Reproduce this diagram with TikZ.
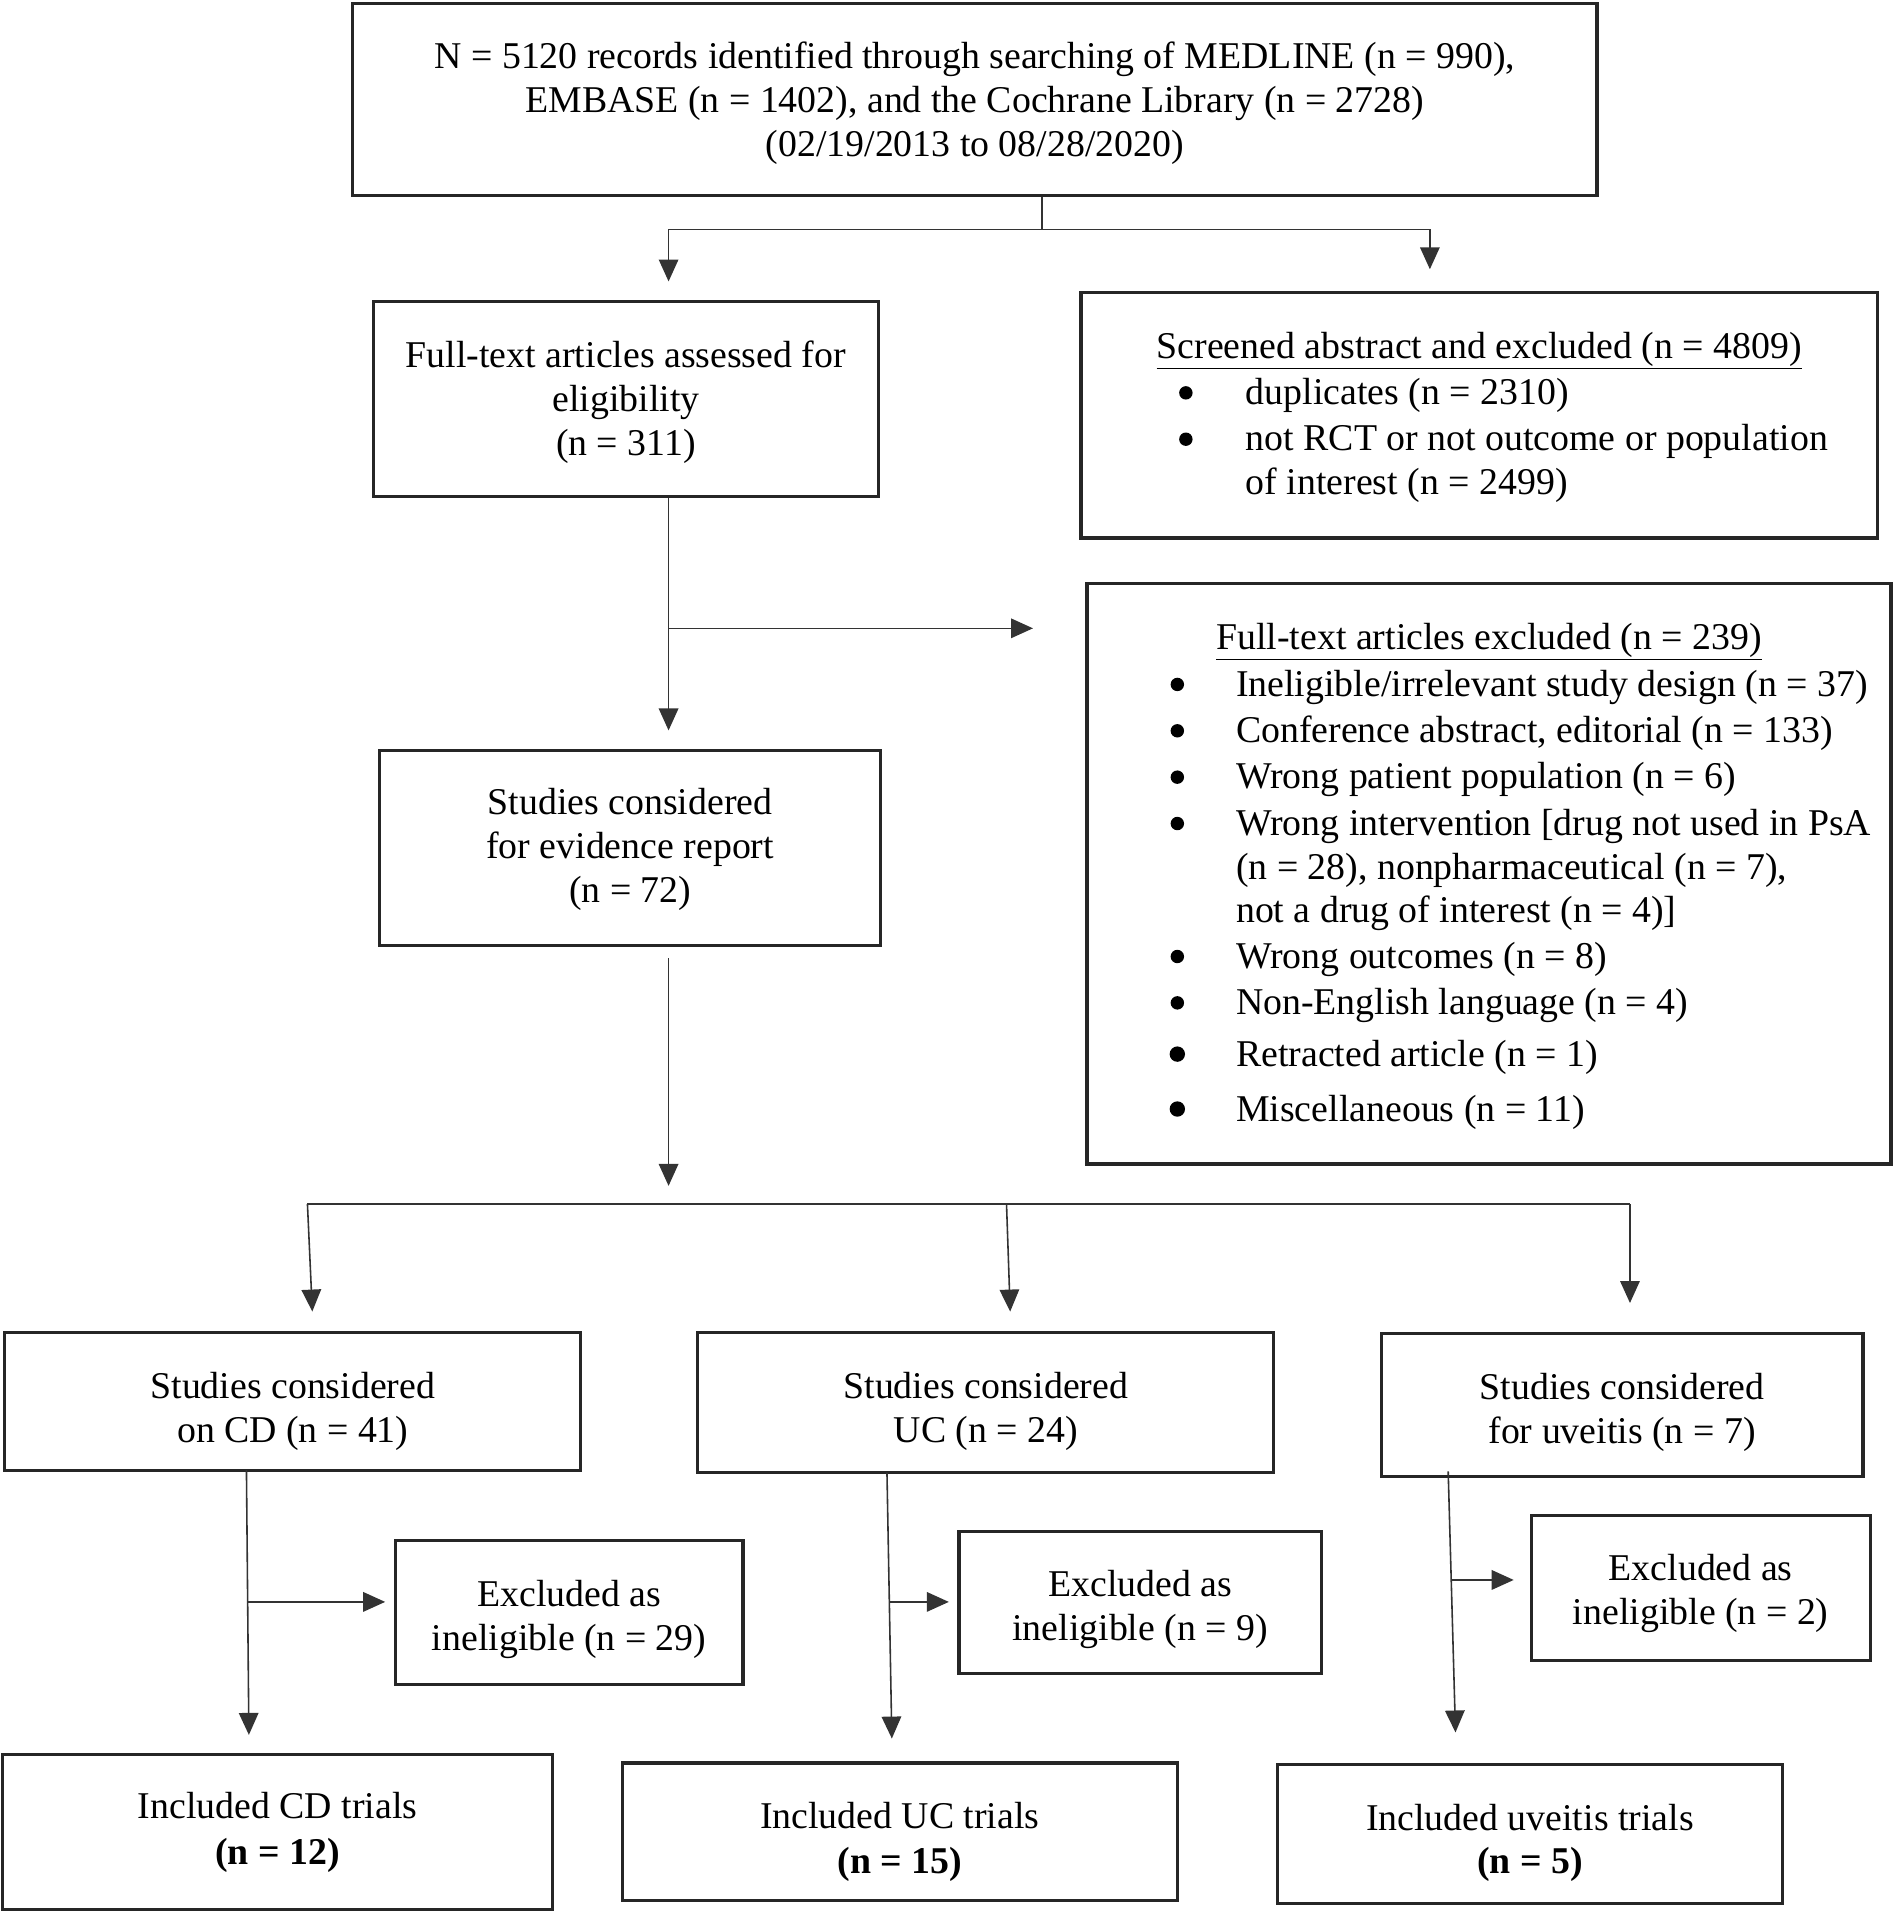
\documentclass[tikz,border=0pt]{standalone}
\usepackage{fontspec}
\setmainfont{Liberation Serif}
\usetikzlibrary{arrows.meta,calc}
\begin{document}
\begin{tikzpicture}[x=1pt,y=-1pt,
  box/.style={draw=black!85, line width=2.6pt, inner sep=0pt},
  btxt/.style={inner sep=0pt, align=center, font=\fontsize{31}{36}\selectfont},
  txt/.style={inner sep=0pt, font=\fontsize{31}{36}\selectfont, text height=0.72em, text depth=0.22em},
  conn/.style={draw=black!80, line width=1.3pt},
  arr/.style={conn, -{Triangle[length=18pt,width=16pt]}},
  bul/.style={fill=black},
]
\useasboundingbox (0,0) rectangle (1552,1568);

% boxes
\node[box, minimum width=1020pt, minimum height=157pt] (top) at (799,81.5) {};
\node[box, minimum width=414pt, minimum height=160pt] (A) at (513,327) {};
\node[box, minimum width=653pt, minimum height=201pt] (B) at (1212.5,340.5) {};
\node[box, minimum width=659pt, minimum height=476pt] (C) at (1220.5,716) {};
\node[box, minimum width=411pt, minimum height=160pt] (D) at (516.5,695) {};
\node[box, minimum width=472pt, minimum height=113pt] (E1) at (240,1148.5) {};
\node[box, minimum width=472pt, minimum height=115pt] (E2) at (808,1149.5) {};
\node[box, minimum width=395pt, minimum height=117pt] (E3) at (1329.5,1151.5) {};
\node[box, minimum width=285pt, minimum height=118pt] (F1) at (466.5,1322) {};
\node[box, minimum width=297pt, minimum height=117pt] (F2) at (934.5,1313.5) {};
\node[box, minimum width=278pt, minimum height=119pt] (F3) at (1394,1301.5) {};
\node[box, minimum width=451pt, minimum height=127pt] (G1) at (227.5,1501.5) {};
\node[box, minimum width=455pt, minimum height=113pt] (G2) at (737.5,1501.5) {};
\node[box, minimum width=414pt, minimum height=114pt] (G3) at (1254,1503) {};

% box texts
\node[btxt] (topT) at (799,84.5)
  {N = 5120 records identified through searching of MEDLINE (n = 990),\\
   EMBASE (n = 1402), and the Cochrane Library (n = 2728)\\
   (02/19/2013 to 08/28/2020)};
\node[btxt] (AT) at (513,329.5) {Full-text articles assessed for\\ eligibility\\ (n = 311)};
\node[btxt] (DT) at (516.5,696.5) {Studies considered\\ for evidence report\\ (n = 72)};
\node[btxt] (E1T) at (240,1156.5) {Studies considered\\ on CD (n = 41)};
\node[btxt] (E2T) at (808,1156.5) {Studies considered\\ UC (n = 24)};
\node[btxt] (E3T) at (1329.5,1157.5) {Studies considered\\ for uveitis (n = 7)};
\node[btxt] (F1T) at (466.5,1327.5) {Excluded as\\ ineligible (n = 29)};
\node[btxt] (F2T) at (934.5,1319) {Excluded as\\ ineligible (n = 9)};
\node[btxt] (F3T) at (1394,1306) {Excluded as\\ ineligible (n = 2)};
\node[btxt, font=\fontsize{31}{38}\selectfont] (G1T) at (227.5,1502) {Included CD trials\\ \textbf{(n = 12)}};
\node[btxt, font=\fontsize{31}{37}\selectfont] (G2T) at (737.5,1509.5) {Included UC trials\\ \textbf{(n = 15)}};
\node[btxt, font=\fontsize{31}{36}\selectfont] (G3T) at (1254,1510.5) {Included uveitis trials\\ \textbf{(n = 5)}};

% texts in B
\node[txt] (Bt) at (1212.5,291) {\underline{Screened abstract and excluded (n = 4809)}};
\node[txt, anchor=west] (B1) at (1021,329) {duplicates (n = 2310)};
\node[txt, anchor=west] (B2) at (1021,367) {not RCT or not outcome or population};
\node[txt, anchor=west] (B3) at (1021,403) {of interest (n = 2499)};
\fill[bul] (972,322) circle (5.5);
\fill[bul] (972,360) circle (5.5);

% texts in C
\node[txt] (Ct) at (1220.5,530) {\underline{Full-text articles excluded (n = 239)}};
\node[txt, anchor=west] (C1) at (1013,568) {Ineligible/irrelevant study design (n = 37)};
\node[txt, anchor=west] (C2) at (1013,606) {Conference abstract, editorial (n = 133)};
\node[txt, anchor=west] (C3) at (1013,644) {Wrong patient population (n = 6)};
\node[txt, anchor=west] (C4) at (1013,682) {Wrong intervention [drug not used in PsA};
\node[txt, anchor=west] (C5) at (1013,718) {(n = 28), nonpharmaceutical (n = 7),};
\node[txt, anchor=west] (C6) at (1013,754) {not a drug of interest (n = 4)]};
\node[txt, anchor=west] (C7) at (1013,791) {Wrong outcomes (n = 8)};
\node[txt, anchor=west] (C8) at (1013,829) {Non-English language (n = 4)};
\node[txt, anchor=west] (C9) at (1013,872) {Retracted article (n = 1)};
\node[txt, anchor=west] (C10) at (1013,917) {Miscellaneous (n = 11)};
\foreach \yy in {561,599,637,675,784,822}{\fill[bul] (965,\yy) circle (5.5);}
\foreach \yy in {864,909}{\fill[bul] (965,\yy) circle (6.3);}

% connectors: top
\coordinate (j0) at (854,188);
\coordinate (jL) at (548,188);
\coordinate (jR) at (1172,188);
\draw[conn] (top.south -| j0) -- (j0);
\draw[conn] (jL) -- (jR);
\draw[arr, shorten >=15pt] (jL) -- (jL |- A.north);
\draw[arr, shorten >=18pt] (jR) -- (jR |- B.north);

% from A
\coordinate (b1) at (548,515);
\draw[arr, shorten >=15pt] (A.south -| jL) -- (D.north -| jL);
\draw[arr, shorten >=43pt] (b1) -- (b1 -| C.west);

% from D
\coordinate (dtip) at (548,972);
\draw[arr, shorten <=9pt] (D.south -| jL) -- (dtip);
\coordinate (h1) at (252,987);
\coordinate (h2) at (825,987);
\coordinate (h3) at (1336,987);
\draw[conn] (h1) -- (h3);
\coordinate (t1) at (256,1075);
\coordinate (t2) at (828,1075);
\coordinate (t3) at (1336,1068);
\draw[arr] (h1) -- (t1);
\draw[arr] (h2) -- (t2);
\draw[arr] (h3) -- (t3);

% from E1
\coordinate (e1s) at (202,1205);
\coordinate (e1t) at (204,1422);
\coordinate (e1b) at (202.5,1313);
\draw[arr] (e1s) -- (e1t);
\draw[arr, shorten >=7pt] (e1b) -- (e1b -| F1.west);
% from E2
\coordinate (e2s) at (727,1207);
\coordinate (e2t) at (731,1425);
\coordinate (e2b) at (729,1313);
\draw[arr] (e2s) -- (e2t);
\draw[arr, shorten >=7pt] (e2b) -- (e2b -| F2.west);
% from E3
\coordinate (e3s) at (1187,1206);
\coordinate (e3t) at (1193,1420);
\coordinate (e3b) at (1190,1295);
\draw[arr] (e3s) -- (e3t);
\draw[arr, shorten >=13pt] (e3b) -- (e3b -| F3.west);
\end{tikzpicture}
\end{document}
